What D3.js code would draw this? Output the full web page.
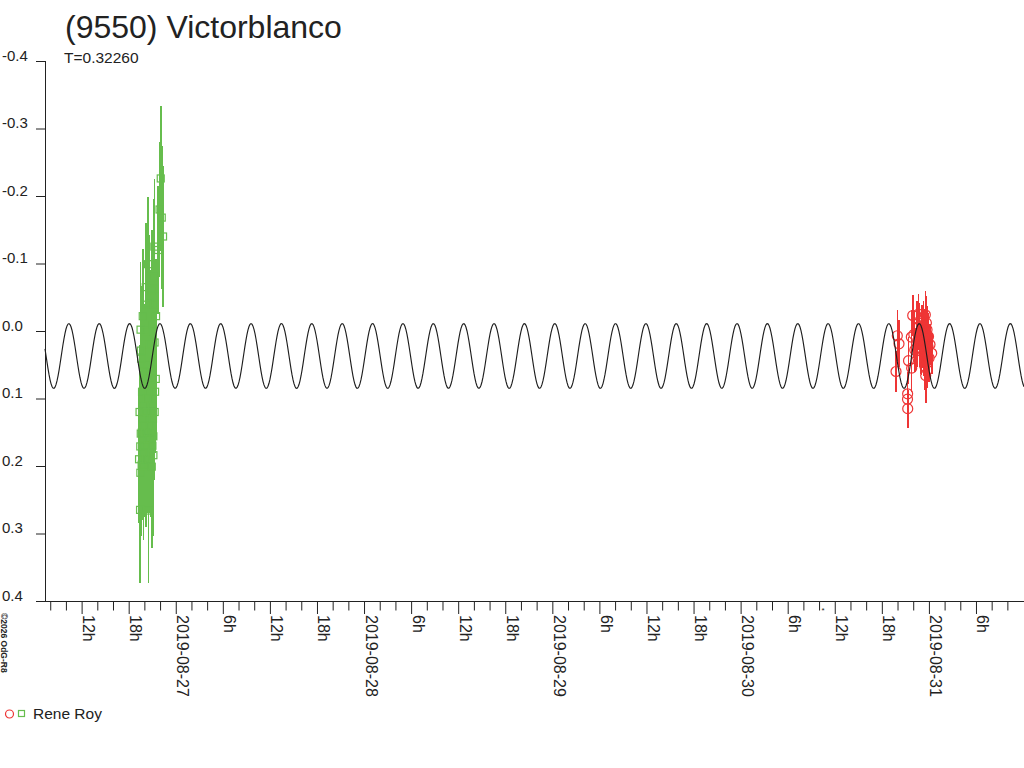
<!DOCTYPE html>
<html>
<head>
<meta charset="utf-8">
<script src="https://cdn.jsdelivr.net/npm/d3@7"></script>
<style>
  body { margin: 0; background: #fff; }
  svg { display: block; font-family: "Liberation Sans", Arial, sans-serif; }
</style>
</head>
<body>
<div id="chart"></div>
<script>
const TITLE = "(9550) Victorblanco";
const PERIOD_LABEL = "T=0.32260";
const OBSERVER = "Rene Roy";
const COPYRIGHT = "©2026 OdG-R8";

// fit: double-wave model with the period above (days of Aug 2019, UTC)
const PERIOD = 0.32260;
const FIT_T0 = 26.4322;
const FIT_MEAN = 0.037;
const FIT_AMP = 0.048;

const X_START = 26.30556;
const X_END = 31.50504;
const STAR_DAY = 30.4376;

const Y_TICKS = [-0.4, -0.3, -0.2, -0.1, 0.0, 0.1, 0.2, 0.3, 0.4];
const X_LABEL_HOURS = [0, 6, 12, 18];

// [day of Aug 2019, magnitude, error]
const GREEN = [
  [26.8051, 0.190, 0.095], [26.8078, 0.120, 0.100], [26.8104, 0.265, 0.108],
  [26.8115, 0.171, 0.095], [26.8120, 0.210, 0.110], [26.8131, -0.002, 0.100],
  [26.8141, 0.152, 0.100], [26.8152, 0.029, 0.095], [26.8162, 0.041, 0.090],
  [26.8189, 0.198, 0.105], [26.8200, 0.150, 0.110], [26.8210, 0.090, 0.100],
  [26.8231, 0.130, 0.095], [26.8247, -0.022, 0.100], [26.8260, 0.180, 0.100],
  [26.8279, 0.110, 0.105], [26.8290, 0.200, 0.110], [26.8306, 0.060, 0.100],
  [26.8320, 0.170, 0.105], [26.8333, 0.140, 0.100], [26.8359, 0.080, 0.105],
  [26.8370, 0.150, 0.110], [26.8386, 0.000, 0.110], [26.8407, -0.065, 0.095],
  [26.8420, 0.190, 0.100], [26.8433, 0.120, 0.100], [26.8460, -0.039, 0.095],
  [26.8470, 0.100, 0.110], [26.8486, 0.160, 0.110], [26.8508, 0.050, 0.100],
  [26.8520, 0.150, 0.105], [26.8529, -0.099, 0.100], [26.8545, 0.266, 0.108],
  [26.8560, 0.190, 0.100], [26.8571, 0.100, 0.105], [26.8582, -0.042, 0.100],
  [26.8600, 0.160, 0.110], [26.8609, 0.140, 0.100], [26.8635, 0.020, 0.110],
  [26.8650, 0.120, 0.110], [26.8662, 0.180, 0.095], [26.8688, 0.070, 0.100],
  [26.8700, 0.150, 0.105], [26.8725, -0.060, 0.090], [26.8726, 0.201, 0.120],
  [26.8752, 0.110, 0.105], [26.8760, 0.170, 0.100], [26.8778, -0.010, 0.120],
  [26.8790, 0.130, 0.110], [26.8810, 0.156, 0.090], [26.8812, 0.184, 0.120],
  [26.8826, -0.080, 0.115], [26.8847, -0.039, 0.095], [26.8863, -0.125, 0.100],
  [26.8864, -0.063, 0.095], [26.8874, 0.017, 0.100], [26.8880, 0.120, 0.100],
  [26.8901, 0.090, 0.090], [26.8938, 0.071, 0.090], [26.8954, -0.022, 0.085],
  [26.9060, -0.120, 0.095], [26.9140, -0.180, 0.100], [26.9203, -0.226, 0.108],
  [26.9256, -0.168, 0.106], [26.9325, -0.140, 0.105],
];

const RED = [
  [30.8253, 0.060, 0.030], [30.8322, 0.007, 0.038], [30.8412, 0.019, 0.035],
  [30.8864, 0.101, 0.030], [30.8870, 0.093, 0.032], [30.8875, 0.115, 0.028],
  [30.8917, 0.044, 0.035], [30.9066, 0.009, 0.040], [30.9085, 0.055, 0.035],
  [30.9140, -0.023, 0.030], [30.9200, 0.005, 0.035], [30.9250, 0.028, 0.032],
  [30.9352, -0.004, 0.040], [30.9360, 0.018, 0.035], [30.9437, -0.025, 0.030],
  [30.9474, -0.007, 0.035], [30.9490, 0.013, 0.040], [30.9565, 0.025, 0.038],
  [30.9597, 0.030, 0.035], [30.9620, 0.001, 0.040], [30.9660, 0.020, 0.035],
  [30.9703, -0.009, 0.035], [30.9724, 0.008, 0.040], [30.9750, 0.031, 0.035],
  [30.9777, 0.052, 0.035], [30.9790, 0.013, 0.040], [30.9809, -0.024, 0.035],
  [30.9830, 0.066, 0.040], [30.9862, 0.038, 0.035], [30.9866, -0.012, 0.040],
  [30.9900, -0.002, 0.035], [30.9915, 0.047, 0.038], [30.9950, 0.023, 0.040],
  [30.9979, 0.008, 0.035], [31.0010, 0.040, 0.035], [31.0058, 0.020, 0.030],
  [31.0149, 0.033, 0.030],
];

const COLORS = { green: "#66bd4d", red: "#ee3535", ink: "#222222", curve: "#1e1e1e" };

const WIDTH = 1024;
const HEIGHT = 768;
const PLOT = { left: 45, right: 1024, top: 61, bottom: 601 };

const toDate = (day) => new Date(Date.UTC(2019, 7, 1) + (day - 1) * 864e5);

const svg = d3
  .select("#chart")
  .append("svg")
  .attr("width", WIDTH)
  .attr("height", HEIGHT);

svg.append("rect").attr("width", WIDTH).attr("height", HEIGHT).attr("fill", "#fff");

const x = d3.scaleUtc().domain([toDate(X_START), toDate(X_END)]).range([PLOT.left, PLOT.right]);
const y = d3.scaleLinear().domain([-0.4, 0.4]).range([PLOT.top, PLOT.bottom]);

// titles
svg
  .append("text")
  .attr("x", 65)
  .attr("y", 38)
  .attr("font-size", 32)
  .attr("fill", COLORS.ink)
  .text(TITLE);

svg
  .append("text")
  .attr("x", 64)
  .attr("y", 63)
  .attr("font-size", 15.5)
  .attr("fill", COLORS.ink)
  .text(PERIOD_LABEL);

// y axis
const yAxis = svg
  .append("g")
  .attr("transform", `translate(${PLOT.left},0)`)
  .call(d3.axisLeft(y).tickValues(Y_TICKS).tickSize(9).tickFormat((d) => d.toFixed(1)));

yAxis.select(".domain").remove();
yAxis.selectAll("line").attr("stroke", COLORS.ink);
yAxis
  .selectAll("text")
  .attr("x", 2 - PLOT.left)
  .attr("y", -1)
  .attr("dy", null)
  .attr("text-anchor", "start")
  .attr("font-size", 15)
  .attr("font-family", "Liberation Sans, Arial, sans-serif")
  .attr("fill", COLORS.ink);

svg
  .append("line")
  .attr("x1", PLOT.left + 0.5)
  .attr("x2", PLOT.left + 0.5)
  .attr("y1", PLOT.top)
  .attr("y2", PLOT.bottom)
  .attr("stroke", COLORS.ink);

// x axis
const isMajor = (d) => d.getUTCMinutes() === 0 && X_LABEL_HOURS.includes(d.getUTCHours());
const xLabel = (d) => {
  if (!isMajor(d)) return "";
  const h = d.getUTCHours();
  return h === 0 ? d3.utcFormat("%Y-%m-%d")(d) : `${h}h`;
};
const xTicks = x.ticks(d3.utcHour.every(2)).filter((d) => x(d) > PLOT.left + 2 && x(d) < PLOT.right - 3);

const xAxis = svg
  .append("g")
  .attr("transform", `translate(0,${PLOT.bottom})`)
  .call(d3.axisBottom(x).tickValues(xTicks).tickSize(9.5).tickFormat(xLabel));

xAxis.select(".domain").remove();
xAxis.selectAll(".tick line").attr("stroke", COLORS.ink).attr("y2", (d) => (isMajor(d) ? 13 : 9.5));
xAxis
  .selectAll(".tick text")
  .attr("x", null)
  .attr("y", null)
  .attr("dy", null)
  .attr("transform", "translate(1,14) rotate(90)")
  .attr("text-anchor", "start")
  .attr("font-size", 16)
  .attr("font-family", "Liberation Sans, Arial, sans-serif")
  .attr("fill", COLORS.ink);

svg
  .append("line")
  .attr("x1", 36)
  .attr("x2", WIDTH)
  .attr("y1", PLOT.bottom + 0.5)
  .attr("y2", PLOT.bottom + 0.5)
  .attr("stroke", COLORS.ink);

svg
  .append("text")
  .attr("x", x(toDate(STAR_DAY)))
  .attr("y", 612.5)
  .attr("text-anchor", "middle")
  .attr("font-size", 8)
  .attr("fill", COLORS.ink)
  .text("*");

// observations
function drawSeries(data, color, shape) {
  const g = svg.append("g");
  g.selectAll("line")
    .data(data)
    .join("line")
    .attr("x1", (d) => x(toDate(d[0])))
    .attr("x2", (d) => x(toDate(d[0])))
    .attr("y1", (d) => y(d[1] - d[2]))
    .attr("y2", (d) => y(d[1] + d[2]))
    .attr("stroke", color)
    .attr("stroke-width", 1.6)
    .attr("shape-rendering", "crispEdges");

  if (shape === "square") {
    g.selectAll("rect")
      .data(data)
      .join("rect")
      .attr("x", (d) => x(toDate(d[0])) - 3.5)
      .attr("y", (d) => y(d[1]) - 3.5)
      .attr("width", 7)
      .attr("height", 7)
      .attr("fill", "none")
      .attr("stroke", color)
      .attr("stroke-width", 1.2);
  } else {
    g.selectAll("circle")
      .data(data)
      .join("circle")
      .attr("cx", (d) => x(toDate(d[0])))
      .attr("cy", (d) => y(d[1]))
      .attr("r", 5)
      .attr("fill", "none")
      .attr("stroke", color)
      .attr("stroke-width", 1.2);
  }
}

drawSeries(GREEN, COLORS.green, "square");
drawSeries(RED, COLORS.red, "circle");

// fitted curve, one sample per pixel
const fitMag = (day) => FIT_MEAN - FIT_AMP * Math.cos((4 * Math.PI * (day - FIT_T0)) / PERIOD);
const samples = d3.range(PLOT.left, PLOT.right + 1, 1).map((px) => {
  const day = 1 + (x.invert(px) - Date.UTC(2019, 7, 1)) / 864e5;
  return [px, fitMag(day)];
});

svg
  .append("path")
  .datum(samples)
  .attr("fill", "none")
  .attr("stroke", COLORS.curve)
  .attr("stroke-width", 1.15)
  .attr("d", d3.line().x((d) => d[0]).y((d) => y(d[1])));

// legend
svg.append("circle").attr("cx", 9.5).attr("cy", 714).attr("r", 4).attr("fill", "none").attr("stroke", COLORS.red).attr("stroke-width", 1.2);
svg
  .append("rect")
  .attr("x", 18.5)
  .attr("y", 710.5)
  .attr("width", 6)
  .attr("height", 6)
  .attr("fill", "none")
  .attr("stroke", COLORS.green)
  .attr("stroke-width", 1.2);
svg
  .append("text")
  .attr("x", 33)
  .attr("y", 719)
  .attr("font-size", 15.5)
  .attr("fill", COLORS.ink)
  .text(OBSERVER);

svg
  .append("text")
  .attr("transform", "translate(1,613) rotate(90)")
  .attr("font-size", 8.5)
  .attr("font-weight", "bold")
  .attr("fill", COLORS.ink)
  .text(COPYRIGHT);
</script>
</body>
</html>
